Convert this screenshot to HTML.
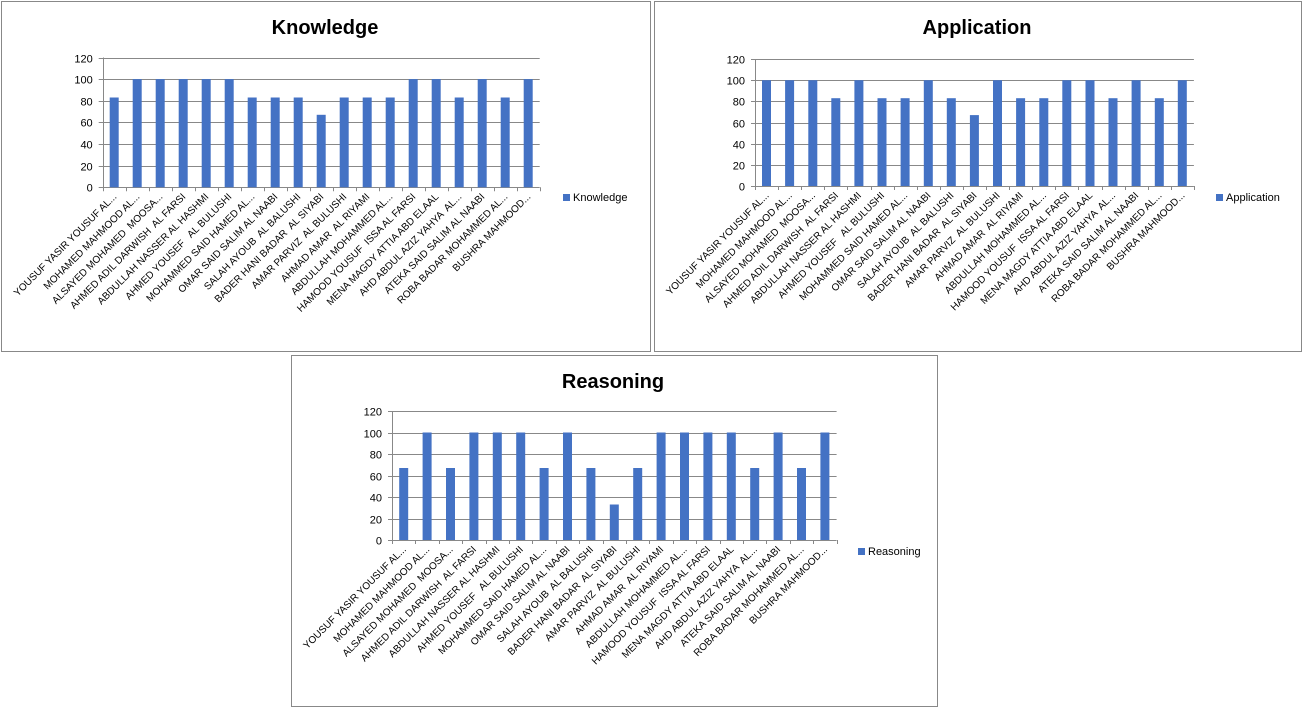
<!DOCTYPE html>
<html><head><meta charset="utf-8"><style>
html,body{margin:0;padding:0;background:#fff;width:1306px;height:711px;overflow:hidden}
svg{position:absolute;left:0;top:0}
</style></head><body>
<svg id="s" width="1306" height="711" xmlns="http://www.w3.org/2000/svg" font-family="Liberation Sans, sans-serif"></svg>
<script>
const names=["YOUSUF YASIR YOUSUF AL...","MOHAMED MAHMOOD AL...","ALSAYED MOHAMED  MOOSA...","AHMED ADIL DARWISH  AL FARSI","ABDULLAH NASSER AL HASHMI","AHMED YOUSEF   AL BULUSHI","MOHAMMED SAID HAMED AL...","OMAR SAID SALIM AL NAABI","SALAH AYOUB  AL BALUSHI","BADER HANI BADAR  AL SIYABI","AMAR PARVIZ  AL BULUSHI","AHMAD AMAR  AL RIYAMI","ABDULLAH MOHAMMED AL...","HAMOOD YOUSUF  ISSA AL FARSI","MENA MAGDY ATTIA ABD ELAAL","AHD ABDUL AZIZ YAHYA  AL...","ATEKA SAID SALIM AL NAABI","ROBA BADAR MOHAMMED AL...","BUSHRA MAHMOOD..."];
const charts=[
{box:[1.5,1.5,649,350],title:"Knowledge",tx:325,ty:34,ax:102.7,top:57.5,bot:187.3,cw:23,lx:563,ly:194,
 d:[83,100,100,100,100,100,83,83,83,67,83,83,83,100,100,83,100,83,100]},
{box:[654.5,1.5,647,350],title:"Application",tx:977,ty:34,ax:755,top:59,bot:186,cw:23.1,lx:1216,ly:194,
 d:[100,100,100,83,100,83,83,100,83,67,100,83,83,100,100,83,100,83,100]},
{box:[291.5,355.5,646,351],title:"Reasoning",tx:613,ty:388,ax:392,top:411,bot:540,cw:23.4,lx:858,ly:548,
 d:[67,100,67,100,100,100,67,100,67,33,67,100,100,100,100,67,100,67,100]}];
let h="";
for(const c of charts){
 const [bx,by,bw,bh]=c.box;
 h+=`<rect x="${bx}" y="${by}" width="${bw}" height="${bh}" fill="#fff" stroke="#888" stroke-width="1"/>`;
 h+=`<text x="${c.tx}" y="${c.ty}" text-anchor="middle" font-size="20" font-weight="bold" fill="#000">${c.title}</text>`;
 const W=c.cw*19, r=c.ax+W, step=(c.bot-c.top)/6;
 for(let i=0;i<=6;i++){
  const y=Math.round(c.bot-i*step)+0.5;
  h+=`<line x1="${c.ax-4}" y1="${y}" x2="${r}" y2="${y}" stroke="#888" stroke-width="1"/>`;
  h+=`<text x="${c.ax-10}" y="${y+4}" text-anchor="end" font-size="11" fill="#000">${i*20}</text>`;
 }
 h+=`<line x1="${Math.round(c.ax)+0.5}" y1="${c.top}" x2="${Math.round(c.ax)+0.5}" y2="${c.bot+4}" stroke="#888"/>`;
 for(let i=0;i<19;i++){
  const x0=c.ax+i*c.cw;
  h+=`<line x1="${Math.round(x0+c.cw)+0.5}" y1="${c.bot}" x2="${Math.round(x0+c.cw)+0.5}" y2="${c.bot+4}" stroke="#888"/>`;
  const bhgt=c.d[i]/120*(c.bot-c.top);
  h+=`<rect x="${(x0+c.cw/2-4.5).toFixed(1)}" y="${(c.bot-bhgt).toFixed(1)}" width="9" height="${bhgt.toFixed(1)}" fill="#4472C4"/>`;
  const tx=x0+c.cw/2+3, ty=c.bot+10;
  h+=`<text x="${tx.toFixed(1)}" y="${ty}" text-anchor="end" font-size="10" fill="#000" transform="rotate(-45 ${tx.toFixed(1)} ${ty})" xml:space="preserve">${names[i]}</text>`;
 }
 h+=`<rect x="${c.lx}" y="${c.ly}" width="7" height="7" fill="#4472C4"/>`;
 h+=`<text x="${c.lx+10}" y="${c.ly+7}" font-size="11" fill="#000">${c.title}</text>`;
}
document.getElementById("s").innerHTML=h;
</script>
</body></html>
